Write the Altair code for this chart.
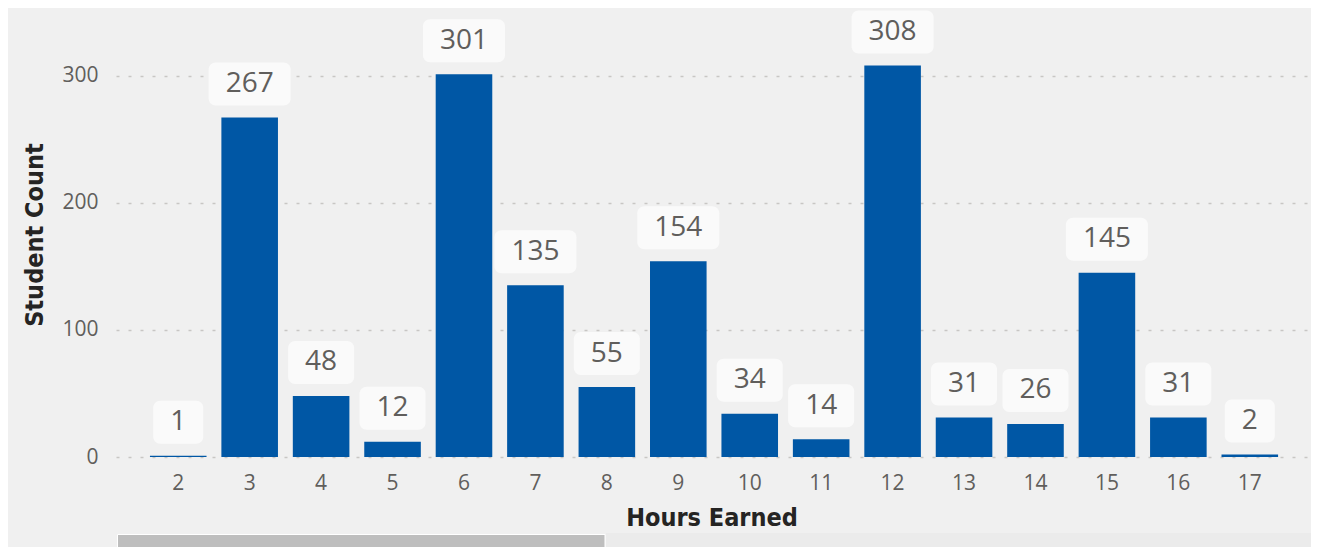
import altair as alt
import pandas as pd

hours = [str(h) for h in range(2, 18)]
counts = [1, 267, 48, 12, 301, 135, 55, 154, 34, 14, 308, 31, 26, 145, 31, 2]
y_ticks = [0, 100, 200, 300]

df = pd.DataFrame({"hours": hours, "count": counts})
df["label"] = df["count"].astype(str)
df["boxw"] = df["label"].str.len() * 16 + 34

W, H = 1191, 445
BAR = "#0057A5"
TITLE_FONT = "DejaVu Sans Condensed, Roboto, sans-serif"
LABEL_FONT = "Open Sans, Noto Sans, sans-serif"

xenc = alt.X(
    "hours:O",
    sort=hours,
    title="Hours Earned",
    scale=alt.Scale(paddingInner=0.208, paddingOuter=0.44, align=0.54),
    axis=alt.Axis(
        labelAngle=0, domain=False, ticks=False, grid=False,
        labelPadding=15, labelFontSize=21, labelColor="#605E5C", labelFont=LABEL_FONT,
        titleFont=TITLE_FONT, titleFontSize=25, titleFontWeight="bold",
        titleColor="#252423", titlePadding=12,
    ),
)
yscale = alt.Scale(domain=[0, 350], nice=False)
yenc = alt.Y(
    "count:Q",
    scale=yscale,
    title="Student Count",
    axis=alt.Axis(
        values=y_ticks, domain=False, ticks=False, grid=True,
        gridColor="#C8C6C4", gridDash=[3, 9], gridWidth=1.5,
        labelPadding=18, labelFontSize=21, labelColor="#605E5C", labelFont=LABEL_FONT,
        titleFont=TITLE_FONT, titleFontSize=25, titleFontWeight="bold",
        titleColor="#252423", titlePadding=14,
    ),
)

base = alt.Chart(df)

bars = base.mark_bar(color=BAR).encode(x=xenc, y=yenc)

boxes = base.mark_bar(color="#FAFAFA", cornerRadius=7, yOffset=-55, y2Offset=-12).encode(
    x=alt.X("hours:O", sort=hours),
    y=alt.Y("count:Q", scale=yscale),
    y2=alt.Y2("count:Q"),
    size=alt.Size("boxw:Q", scale=None, legend=None),
)

texts = base.mark_text(
    color="#605E5C", fontSize=28, font=LABEL_FONT, baseline="middle", dy=-33.5
).encode(
    x=alt.X("hours:O", sort=hours),
    y=alt.Y("count:Q", scale=yscale),
    text="label:N",
)

sb = pd.DataFrame({"k": [0]})
track = alt.Chart(sb).mark_rect(color="#EBEBEB").encode(
    x=alt.value(490), x2=alt.value(1196), y=alt.value(521), y2=alt.value(537)
)
thumb = alt.Chart(sb).mark_rect(color="#BEBEBE", stroke="#FFFFFF", strokeWidth=1).encode(
    x=alt.value(1.5), x2=alt.value(489), y=alt.value(522.5), y2=alt.value(537)
)

chart = (
    alt.layer(bars, boxes, texts, track, thumb)
    .properties(
        width=W, height=H,
        autosize=alt.AutoSizeParams(type="none"),
        padding={"left": 108, "top": 4, "right": 4, "bottom": 90},
        background="#F0F0F0",
    )
    .configure_view(stroke=None)
)

chart.save("out.html", embed_options={"renderer": "svg", "actions": False})
